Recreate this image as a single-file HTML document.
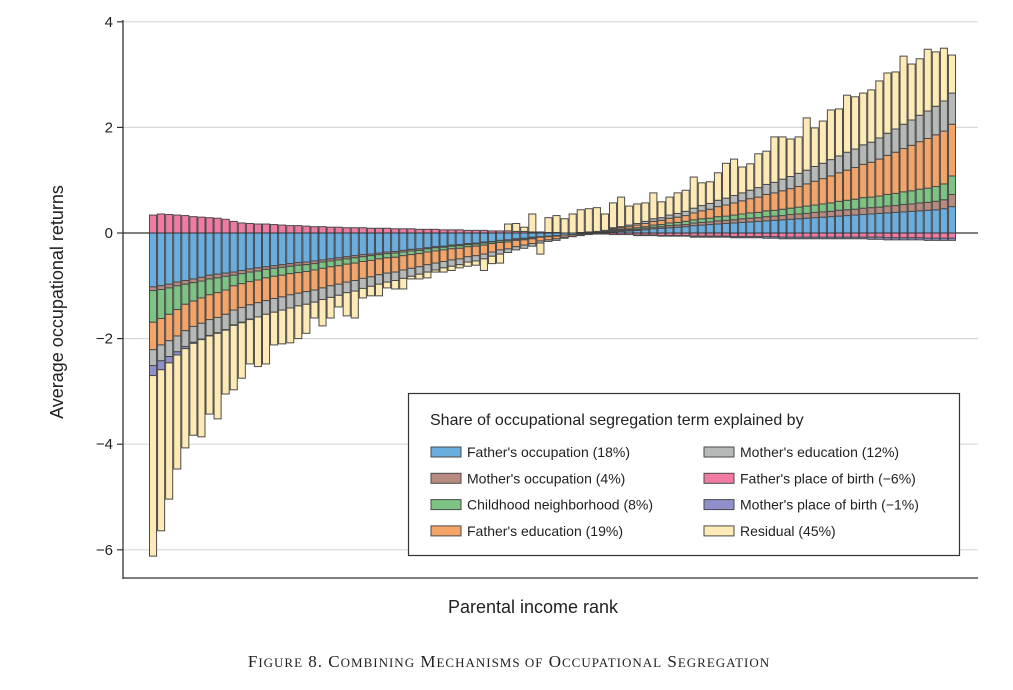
<!DOCTYPE html>
<html><head><meta charset="utf-8">
<style>
body{margin:0;background:#fff;}
svg{display:block;font-family:"Liberation Sans",sans-serif;}
</style></head>
<body>
<svg id="chart" width="1013" height="690" viewBox="0 0 1013 690"></svg>
<script>
const categories = Array.from({length:100},(_,i)=>i+1);
const fatherOcc = [-1.02,-1.0,-0.97,-0.93,-0.9,-0.87,-0.84,-0.8,-0.78,-0.76,-0.74,-0.71,-0.68,-0.66,-0.64,-0.62,-0.6,-0.58,-0.56,-0.55,-0.53,-0.51,-0.49,-0.47,-0.45,-0.43,-0.41,-0.4,-0.38,-0.36,-0.35,-0.33,-0.31,-0.3,-0.28,-0.26,-0.25,-0.23,-0.22,-0.2,-0.19,-0.17,-0.16,-0.14,-0.13,-0.11,-0.1,-0.08,-0.07,-0.06,-0.05,-0.04,-0.03,-0.02,-0.01,0,0.01,0.02,0.03,0.04,0.05,0.06,0.08,0.09,0.1,0.11,0.12,0.14,0.15,0.16,0.17,0.18,0.19,0.2,0.21,0.22,0.23,0.24,0.25,0.26,0.27,0.28,0.29,0.3,0.31,0.32,0.33,0.34,0.35,0.36,0.37,0.38,0.39,0.4,0.41,0.42,0.43,0.44,0.46,0.5];
const motherOcc = [-0.07,-0.07,-0.07,-0.07,-0.07,-0.07,-0.07,-0.07,-0.07,-0.06,-0.06,-0.06,-0.06,-0.06,-0.05,-0.05,-0.05,-0.05,-0.05,-0.05,-0.05,-0.04,-0.04,-0.04,-0.04,-0.04,-0.04,-0.03,-0.03,-0.03,-0.03,-0.03,-0.03,-0.03,-0.02,-0.02,-0.02,-0.02,-0.02,-0.02,-0.02,-0.02,-0.01,-0.01,-0.01,-0.01,-0.01,-0.01,0,0,0,0,0,0.01,0.01,0.01,0.01,0.02,0.02,0.02,0.02,0.03,0.03,0.03,0.04,0.04,0.04,0.05,0.05,0.05,0.06,0.06,0.06,0.07,0.07,0.07,0.08,0.08,0.08,0.09,0.09,0.09,0.1,0.1,0.1,0.11,0.11,0.11,0.12,0.12,0.12,0.13,0.13,0.14,0.14,0.15,0.15,0.16,0.17,0.23];
const neighborhood = [-0.6,-0.55,-0.5,-0.45,-0.38,-0.35,-0.32,-0.3,-0.28,-0.26,-0.2,-0.19,-0.18,-0.17,-0.16,-0.15,-0.15,-0.14,-0.14,-0.13,-0.12,-0.12,-0.11,-0.11,-0.1,-0.1,-0.09,-0.09,-0.08,-0.08,-0.08,-0.07,-0.07,-0.06,-0.06,-0.06,-0.05,-0.05,-0.05,-0.04,-0.04,-0.04,-0.03,-0.03,-0.03,-0.02,-0.02,-0.02,-0.01,-0.01,-0.01,0,0,0,0.01,0.01,0.01,0.02,0.02,0.02,0.03,0.03,0.04,0.04,0.05,0.05,0.06,0.06,0.07,0.07,0.08,0.08,0.09,0.09,0.1,0.1,0.11,0.11,0.12,0.12,0.13,0.14,0.14,0.15,0.16,0.17,0.18,0.19,0.2,0.2,0.21,0.22,0.23,0.24,0.25,0.26,0.27,0.28,0.3,0.35];
const fatherEdu = [-0.52,-0.5,-0.5,-0.5,-0.5,-0.48,-0.48,-0.47,-0.47,-0.46,-0.46,-0.45,-0.44,-0.43,-0.43,-0.42,-0.41,-0.4,-0.39,-0.38,-0.38,-0.37,-0.36,-0.35,-0.34,-0.33,-0.32,-0.31,-0.3,-0.29,-0.28,-0.27,-0.26,-0.25,-0.24,-0.23,-0.22,-0.21,-0.2,-0.19,-0.18,-0.17,-0.16,-0.14,-0.13,-0.12,-0.1,-0.09,-0.07,-0.06,-0.05,-0.04,-0.03,-0.02,-0.01,0,0.01,0.02,0.03,0.04,0.05,0.06,0.07,0.08,0.09,0.1,0.11,0.13,0.15,0.17,0.19,0.21,0.23,0.25,0.27,0.29,0.31,0.33,0.35,0.37,0.39,0.42,0.45,0.48,0.51,0.54,0.57,0.6,0.63,0.66,0.7,0.74,0.78,0.82,0.86,0.9,0.94,0.98,1.0,0.98];
const motherEdu = [-0.3,-0.3,-0.3,-0.3,-0.3,-0.3,-0.3,-0.3,-0.29,-0.29,-0.28,-0.28,-0.27,-0.27,-0.26,-0.26,-0.25,-0.25,-0.24,-0.24,-0.23,-0.22,-0.22,-0.21,-0.2,-0.2,-0.19,-0.18,-0.18,-0.17,-0.16,-0.16,-0.15,-0.14,-0.14,-0.13,-0.12,-0.12,-0.11,-0.1,-0.1,-0.09,-0.08,-0.08,-0.07,-0.06,-0.06,-0.05,-0.04,-0.03,-0.03,-0.02,-0.01,0,0,0.01,0.01,0.02,0.02,0.03,0.03,0.04,0.05,0.05,0.06,0.07,0.08,0.09,0.1,0.11,0.12,0.13,0.14,0.15,0.16,0.18,0.19,0.2,0.22,0.23,0.25,0.26,0.28,0.29,0.31,0.32,0.34,0.35,0.37,0.38,0.4,0.42,0.44,0.46,0.48,0.5,0.52,0.54,0.57,0.59];
const fatherBirth = [0.34,0.36,0.35,0.34,0.33,0.31,0.3,0.29,0.28,0.26,0.22,0.19,0.18,0.17,0.17,0.16,0.15,0.14,0.14,0.13,0.12,0.12,0.11,0.11,0.1,0.1,0.1,0.09,0.09,0.09,0.08,0.08,0.08,0.07,0.07,0.07,0.06,0.06,0.06,0.05,0.05,0.05,0.04,0.04,0.04,0.03,0.03,0.02,0.02,0.01,0.01,0,0,-0.01,-0.01,-0.02,-0.02,-0.03,-0.03,-0.03,-0.04,-0.04,-0.04,-0.05,-0.05,-0.05,-0.05,-0.06,-0.06,-0.06,-0.06,-0.06,-0.07,-0.07,-0.07,-0.07,-0.07,-0.07,-0.08,-0.08,-0.08,-0.08,-0.08,-0.08,-0.08,-0.08,-0.08,-0.08,-0.08,-0.08,-0.08,-0.09,-0.09,-0.09,-0.09,-0.09,-0.1,-0.1,-0.1,-0.1];
const motherBirth = [-0.19,-0.17,-0.12,-0.06,-0.04,-0.02,-0.01,-0.01,-0.01,-0.01,-0.01,-0.01,-0.01,0,0,0,0,0,0,0,0,0,0,0,0,0,0,0,0,0,0,0,0,0,0,0,0,0,0,0,0,0,0,0,0,0,0,0,0,0,0,0,0,0,0,0,0,0,0,0,-0.01,-0.01,-0.01,-0.01,-0.01,-0.01,-0.01,-0.02,-0.02,-0.02,-0.02,-0.02,-0.02,-0.02,-0.02,-0.02,-0.03,-0.03,-0.03,-0.03,-0.03,-0.03,-0.03,-0.03,-0.03,-0.03,-0.03,-0.03,-0.03,-0.04,-0.04,-0.04,-0.04,-0.04,-0.04,-0.04,-0.04,-0.04,-0.04,-0.04];
const residual = [-3.42,-3.05,-2.58,-2.16,-1.88,-1.74,-1.84,-1.48,-1.62,-1.21,-1.22,-1.05,-0.84,-0.94,-0.94,-0.62,-0.64,-0.66,-0.62,-0.55,-0.30,-0.50,-0.39,-0.22,-0.44,-0.51,-0.18,-0.18,-0.22,-0.11,-0.16,-0.20,-0.05,-0.09,-0.11,-0.04,-0.08,-0.08,-0.06,-0.08,-0.08,-0.22,-0.14,-0.17,0.13,0.15,0.08,0.34,-0.21,0.28,0.32,0.27,0.36,0.43,0.44,0.45,0.31,0.47,0.56,0.36,0.37,0.35,0.49,0.30,0.34,0.39,0.40,0.59,0.43,0.41,0.52,0.66,0.69,0.49,0.50,0.64,0.63,0.86,0.80,0.71,0.69,0.99,0.73,0.80,0.94,0.89,1.08,0.99,0.98,0.99,1.08,1.14,1.08,1.29,1.06,1.07,1.17,1.03,1.00,0.72];
const yTicks = [-6,-4,-2,0,2,4];
const seriesNames = ["father-occupation","mother-occupation","childhood-neighborhood","father-education","mother-education","father-place-of-birth","mother-place-of-birth","residual"];
const legendLabels = ["Father's occupation (18%)","Mother's occupation (4%)","Childhood neighborhood (8%)","Father's education (19%)","Mother's education (12%)","Father's place of birth (\u22126%)","Mother's place of birth (\u22121%)","Residual (45%)"];

const series=[fatherOcc,motherOcc,neighborhood,fatherEdu,motherEdu,fatherBirth,motherBirth,residual];
const colors=["#6aaee0","#b88b80","#7dc383","#f5a468","#b5b9b8","#f07aa3","#8f8fcc","#fdeab5"];
const NS="http://www.w3.org/2000/svg";
const svg=document.getElementById('chart');
function el(t,a,p){const e=document.createElementNS(NS,t);for(const k in a)e.setAttribute(k,a[k]);(p||svg).appendChild(e);return e;}
const X0=149, BW=8.07, L=123, R=978;
const yS=v=>233-52.8*v;
const xS=i=>X0+BW*i;

yTicks.forEach(t=>{
  const g=el('line',{x1:L,x2:R,y1:yS(t),y2:yS(t),stroke:t===0?'#333':'#d8d8d8','stroke-width':1.2});
  
  
  const tk=el('line',{x1:L-6,x2:L,y1:yS(t),y2:yS(t),stroke:'#333','stroke-width':1.2});
  
  
  const lb=el('text',{x:L-10,y:yS(t)+5,'text-anchor':'end','font-size':15,fill:'#222'});
  lb.textContent=t<0?'\u2212'+Math.abs(t):String(t);
  
  
});

const gb=el('g',{});


categories.forEach((c,i)=>{
  let pos=0,neg=0;
  series.forEach((s,k)=>{
    const v=s[i]; if(v===0) return;
    let y0,y1;
    if(v>0){y0=pos;y1=pos+v;pos=y1;}else{y0=neg;y1=neg+v;neg=y1;}
    const top=yS(Math.max(y0,y1)),bot=yS(Math.min(y0,y1));
    const r=el('rect',{x:xS(i)+0.5,y:top,width:BW-1,height:Math.max(bot-top,0.5),fill:colors[k],stroke:'#4a4a4a','stroke-width':1},gb);
    
    
  });
});
const z=el('line',{x1:L,x2:R,y1:yS(0),y2:yS(0),stroke:'#333','stroke-width':1});



const ya=el('line',{x1:L,x2:L,y1:20,y2:579,stroke:'#333','stroke-width':1.3});


const xa=el('line',{x1:L,x2:R,y1:578,y2:578,stroke:'#333','stroke-width':1.3});



const yt=el('text',{x:0,y:0,transform:'translate(63,302) rotate(-90)','text-anchor':'middle','font-size':18,fill:'#222'});
yt.textContent='Average occupational returns';


const xt=el('text',{x:533,y:613,'text-anchor':'middle','font-size':18,fill:'#222'});
xt.textContent='Parental income rank';



const lg=el('g',{});


const box=el('rect',{x:408.5,y:393.5,width:551,height:162,fill:'#fff',stroke:'#333','stroke-width':1.2},lg);


const lt=el('text',{x:430,y:425,'font-size':16,fill:'#222'},lg);
lt.textContent='Share of occupational segregation term explained by';


const order=[0,4,1,5,2,6,3,7];
order.forEach((k,j)=>{
  const col=j%2,row=Math.floor(j/2);
  const sx=col?704:431, sy=447+row*26.3;
  const sw=el('rect',{x:sx,y:sy,width:30,height:10,fill:colors[k],stroke:'#4a4a4a','stroke-width':1},lg);
  
  
  const t=el('text',{x:sx+36,y:sy+10,'font-size':14,fill:'#222'},lg);
  t.textContent=legendLabels[k];
  
  
});

const cap=el('text',{x:509,y:667,'text-anchor':'middle','font-size':17,fill:'#222','font-family':'"Liberation Serif",serif','letter-spacing':'1'});
cap.innerHTML='F<tspan font-size="13">IGURE</tspan> 8. C<tspan font-size="13">OMBINING</tspan> M<tspan font-size="13">ECHANISMS OF</tspan> O<tspan font-size="13">CCUPATIONAL</tspan> S<tspan font-size="13">EGREGATION</tspan>';


</script>
</body></html>
